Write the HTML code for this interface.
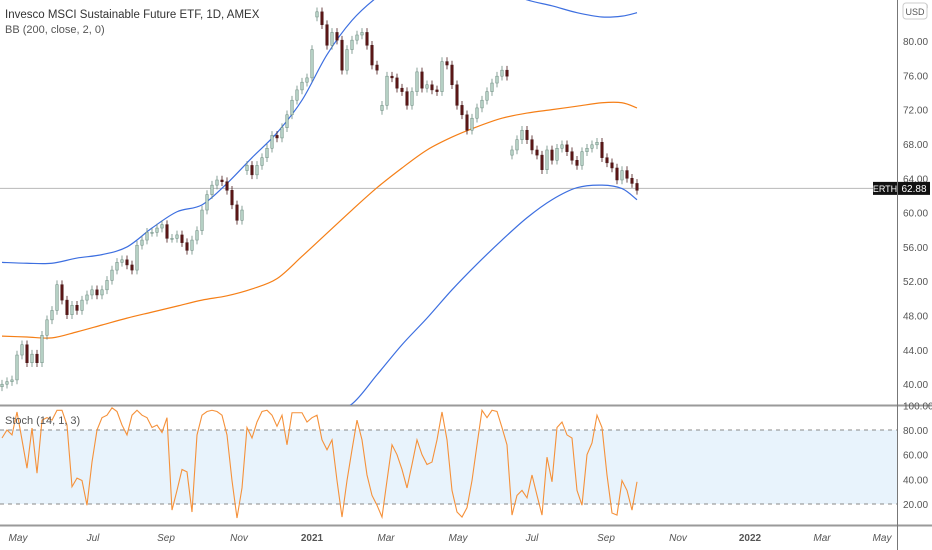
<!DOCTYPE html>
<html><head><meta charset="utf-8"><style>
body{margin:0;background:#fff;width:932px;height:550px;overflow:hidden;font-family:"Liberation Sans",sans-serif}
svg{display:block}
text{font-family:"Liberation Sans",sans-serif}
</style></head><body>
<svg id="c" width="932" height="550"></svg>
<script>
const closes=[40.0,40.3,40.5,43.4,44.6,42.5,43.5,42.5,45.7,47.5,48.6,51.6,49.8,48.1,49.2,48.6,49.8,50.4,51.0,50.4,51.0,52.1,53.3,54.2,54.5,53.9,53.3,56.2,56.8,57.7,57.7,58.2,58.6,57.0,57.0,57.4,56.5,55.6,56.8,57.9,60.3,62.1,63.2,63.8,63.6,62.6,60.9,59.1,60.3,65.5,64.4,65.5,66.4,67.5,69.0,68.7,69.9,71.4,73.1,74.3,75.2,75.7,79.0,83.4,81.9,79.5,81.0,80.1,76.6,79.0,80.1,80.7,81.0,79.5,77.2,76.6,72.5,75.9,75.7,74.5,74.1,72.5,74.1,76.4,74.5,74.9,74.3,74.1,77.6,77.2,74.9,72.5,71.4,69.6,71.0,72.2,73.1,74.1,75.1,75.9,76.6,75.9,67.3,68.5,69.6,68.5,67.3,66.7,65.0,67.3,66.1,67.5,67.9,67.1,66.1,65.5,67.1,67.5,67.9,68.2,66.4,65.8,65.2,63.8,64.9,64.0,63.4,62.6];
const bandIdx=[0,5,10,15,20,25,30,35,40,45,50,55,60,65,70,75,80,85,90,95,100,105,110,115,120,124,127];
const bbMid=[45.6,45.5,45.4,46.1,46.9,47.7,48.4,49.1,49.8,50.3,51.1,52.3,54.9,57.6,60.3,62.9,65.2,67.3,68.8,70.0,71.0,71.6,72.0,72.4,72.8,72.8,72.2];
const bbUpper=[54.2,54.1,54.1,54.7,55.1,56.0,58.2,60.1,60.9,63.4,66.4,69.3,73.1,78.4,82.4,85.1,87,88,88.5,88,86,84.8,84.1,83.3,82.8,82.9,83.3];
const bbLower=[35,35,35,35,35,35,35,35,35,35,35,35,35.5,36.5,37.7,41.1,44.6,47.7,51.0,54.0,56.8,59.4,61.5,62.9,63.2,62.8,61.5];
const stoch=[73.5,80,76,94.6,72,49,81.6,45,88,90,88,96,96,84,34,41,39,19,54,80,90,92,98,95,84,76,92,96,92,90,82,84,78,90,15,31,48,46,13.5,76,92,95,96,95,92,76,39,8.6,33,82,73.5,86.5,95,96,92,83,92,68,94,94,94,86.5,90,92,72,64,72,39,9.4,39,64,88,72,43.5,27,19,9.4,39,68,60,48,33,52,72,60,52,54,72,94.6,72,31,13.5,9.4,17,39,68,96,90,96,95,82,68,11,27,31,25,43.5,27,11,58,38,82,86.5,76,73.5,31,19,60,69.5,92,82,43.5,12.7,11,39,31,15,38];
const priceTicks=[40,44,48,52,56,60,64,68,72,76,80,84];
const stochTicks=[20,40,60,80,100];
const timeLabels=["May","Jul","Sep","Nov","2021","Mar","May","Jul","Sep","Nov","2022","Mar","May"];
const timeIdx=[3.2,18.2,32.8,47.4,62,76.8,91.2,106,120.8,135.2,149.6,164,176];
const lastPrice=62.88;

const NS="http://www.w3.org/2000/svg";
const svg=document.getElementById('c');
function el(t,a,p){const e=document.createElementNS(NS,t);for(const k in a)e.setAttribute(k,a[k]);(p||svg).appendChild(e);return e;}
const xI=i=>i*5+2;
const yP=p=>41+(80-p)*8.58;
const yS=v=>430+(80-v)*1.233;
const PW=897;

const defs=el('defs',{});
const c1=el('clipPath',{id:'cm'},defs);el('rect',{x:0,y:0,width:PW,height:405},c1);
const c2=el('clipPath',{id:'cs'},defs);el('rect',{x:0,y:406,width:PW,height:120},c2);

let band=el('rect',{x:0,y:yS(80),width:PW,height:yS(20)-yS(80),fill:'#e8f3fc'});


[80,20].forEach(v=>{let l=el('line',{x1:0,x2:PW,y1:yS(v),y2:yS(v),stroke:'#888','stroke-dasharray':'4,4','stroke-width':1});

});

el('line',{x1:0,x2:932,y1:405.5,y2:405.5,stroke:'#9a9a9a','stroke-width':2});
el('line',{x1:0,x2:932,y1:525.5,y2:525.5,stroke:'#9a9a9a','stroke-width':2});
el('line',{x1:897.5,x2:897.5,y1:0,y2:550,stroke:'#777','stroke-width':1});

let pl=el('line',{x1:0,x2:PW,y1:yP(lastPrice)+0.5,y2:yP(lastPrice)+0.5,stroke:'#b8b8b8','stroke-width':1});



const gm=el('g',{'clip-path':'url(#cm)'});
function smooth(pts){
  let d='M'+pts[0][0]+','+pts[0][1];
  for(let i=0;i<pts.length-1;i++){
    const p0=pts[Math.max(0,i-1)],p1=pts[i],p2=pts[i+1],p3=pts[Math.min(pts.length-1,i+2)];
    const c1x=p1[0]+(p2[0]-p0[0])/6,c1y=p1[1]+(p2[1]-p0[1])/6;
    const c2x=p2[0]-(p3[0]-p1[0])/6,c2y=p2[1]-(p3[1]-p1[1])/6;
    d+='C'+c1x+','+c1y+' '+c2x+','+c2y+' '+p2[0]+','+p2[1];
  }
  return d;
}
function bandPath(arr,color,name){
  const p=el('path',{d:smooth(arr.map((v,k)=>[xI(bandIdx[k]),yP(v)])),fill:'none',stroke:color,'stroke-width':1.2},gm);
  
  
}
bandPath(bbMid,'#f57f17','bb-basis');
bandPath(bbUpper,'#3d6fe0','bb-upper');
bandPath(bbLower,'#3d6fe0','bb-lower');

closes.forEach((c,i)=>{
  let o=i?closes[i-1]:c-0.3;
  if(Math.abs(c-o)>4) o=c-0.6;
  const hi=Math.max(o,c)+0.5,lo=Math.min(o,c)-0.5;
  const up=c>=o;const x=xI(i);
  const g=el('g',{},gm);
  
  
  el('line',{x1:x,x2:x,y1:yP(hi),y2:yP(lo),stroke:up?'#6a8a7e':'#4a1a1a','stroke-width':0.8},g);
  const t=yP(Math.max(o,c)),b=yP(Math.min(o,c));
  el('rect',{x:x-1.3,y:t,width:2.6,height:Math.max(1,b-t),fill:up?'#b5d0c4':'#5b1616',stroke:up?'#6a8a7e':'#4a1a1a','stroke-width':0.5},g);
});

const gs=el('g',{'clip-path':'url(#cs)'});
let sp=el('path',{d:stoch.map((v,i)=>(i?'L':'M')+xI(i)+','+yS(v)).join(''),fill:'none',stroke:'#f5913a','stroke-width':1.1},gs);



priceTicks.forEach(p=>{
  const t=el('text',{x:903,y:yP(p)+4,'font-size':10,fill:'#555'});t.textContent=p.toFixed(2);
  
  
});
let usd=el('rect',{x:903,y:3,width:24,height:16,rx:3,fill:'#fff',stroke:'#ccc'});


let ut=el('text',{x:915,y:15,'font-size':9,fill:'#555','text-anchor':'middle'});ut.textContent='USD';
stochTicks.forEach(v=>{
  const t=el('text',{x:903,y:yS(v)+4,'font-size':10,fill:'#555'});t.textContent=v.toFixed(2);
  
  
});

let lb=el('rect',{x:873,y:yP(lastPrice)-6,width:24,height:13,fill:'#111'});


let lt=el('text',{x:885,y:yP(lastPrice)+4,'font-size':9,fill:'#fff','text-anchor':'middle'});lt.textContent='ERTH';
let pb=el('rect',{x:898,y:yP(lastPrice)-6,width:32,height:13,fill:'#111'});


let pt=el('text',{x:914,y:yP(lastPrice)+4,'font-size':10,fill:'#fff','text-anchor':'middle'});pt.textContent=lastPrice.toFixed(2);

timeLabels.forEach((s,k)=>{
  const t=el('text',{x:xI(timeIdx[k]),y:541,'font-size':10,fill:'#555','text-anchor':'middle','font-style':/^\d/.test(s)?'normal':'italic','font-weight':/^\d/.test(s)?'bold':'normal'});
  t.textContent=s;
  
  
});

let t1=el('text',{x:5,y:18,'font-size':11.5,fill:'#333'});t1.textContent='Invesco MSCI Sustainable Future ETF, 1D, AMEX';


let t2=el('text',{x:5,y:33,'font-size':11,fill:'#555'});t2.textContent='BB (200, close, 2, 0)';


let t3=el('text',{x:5,y:424,'font-size':11,fill:'#555'});t3.textContent='Stoch (14, 1, 3)';


</script>
</body></html>
